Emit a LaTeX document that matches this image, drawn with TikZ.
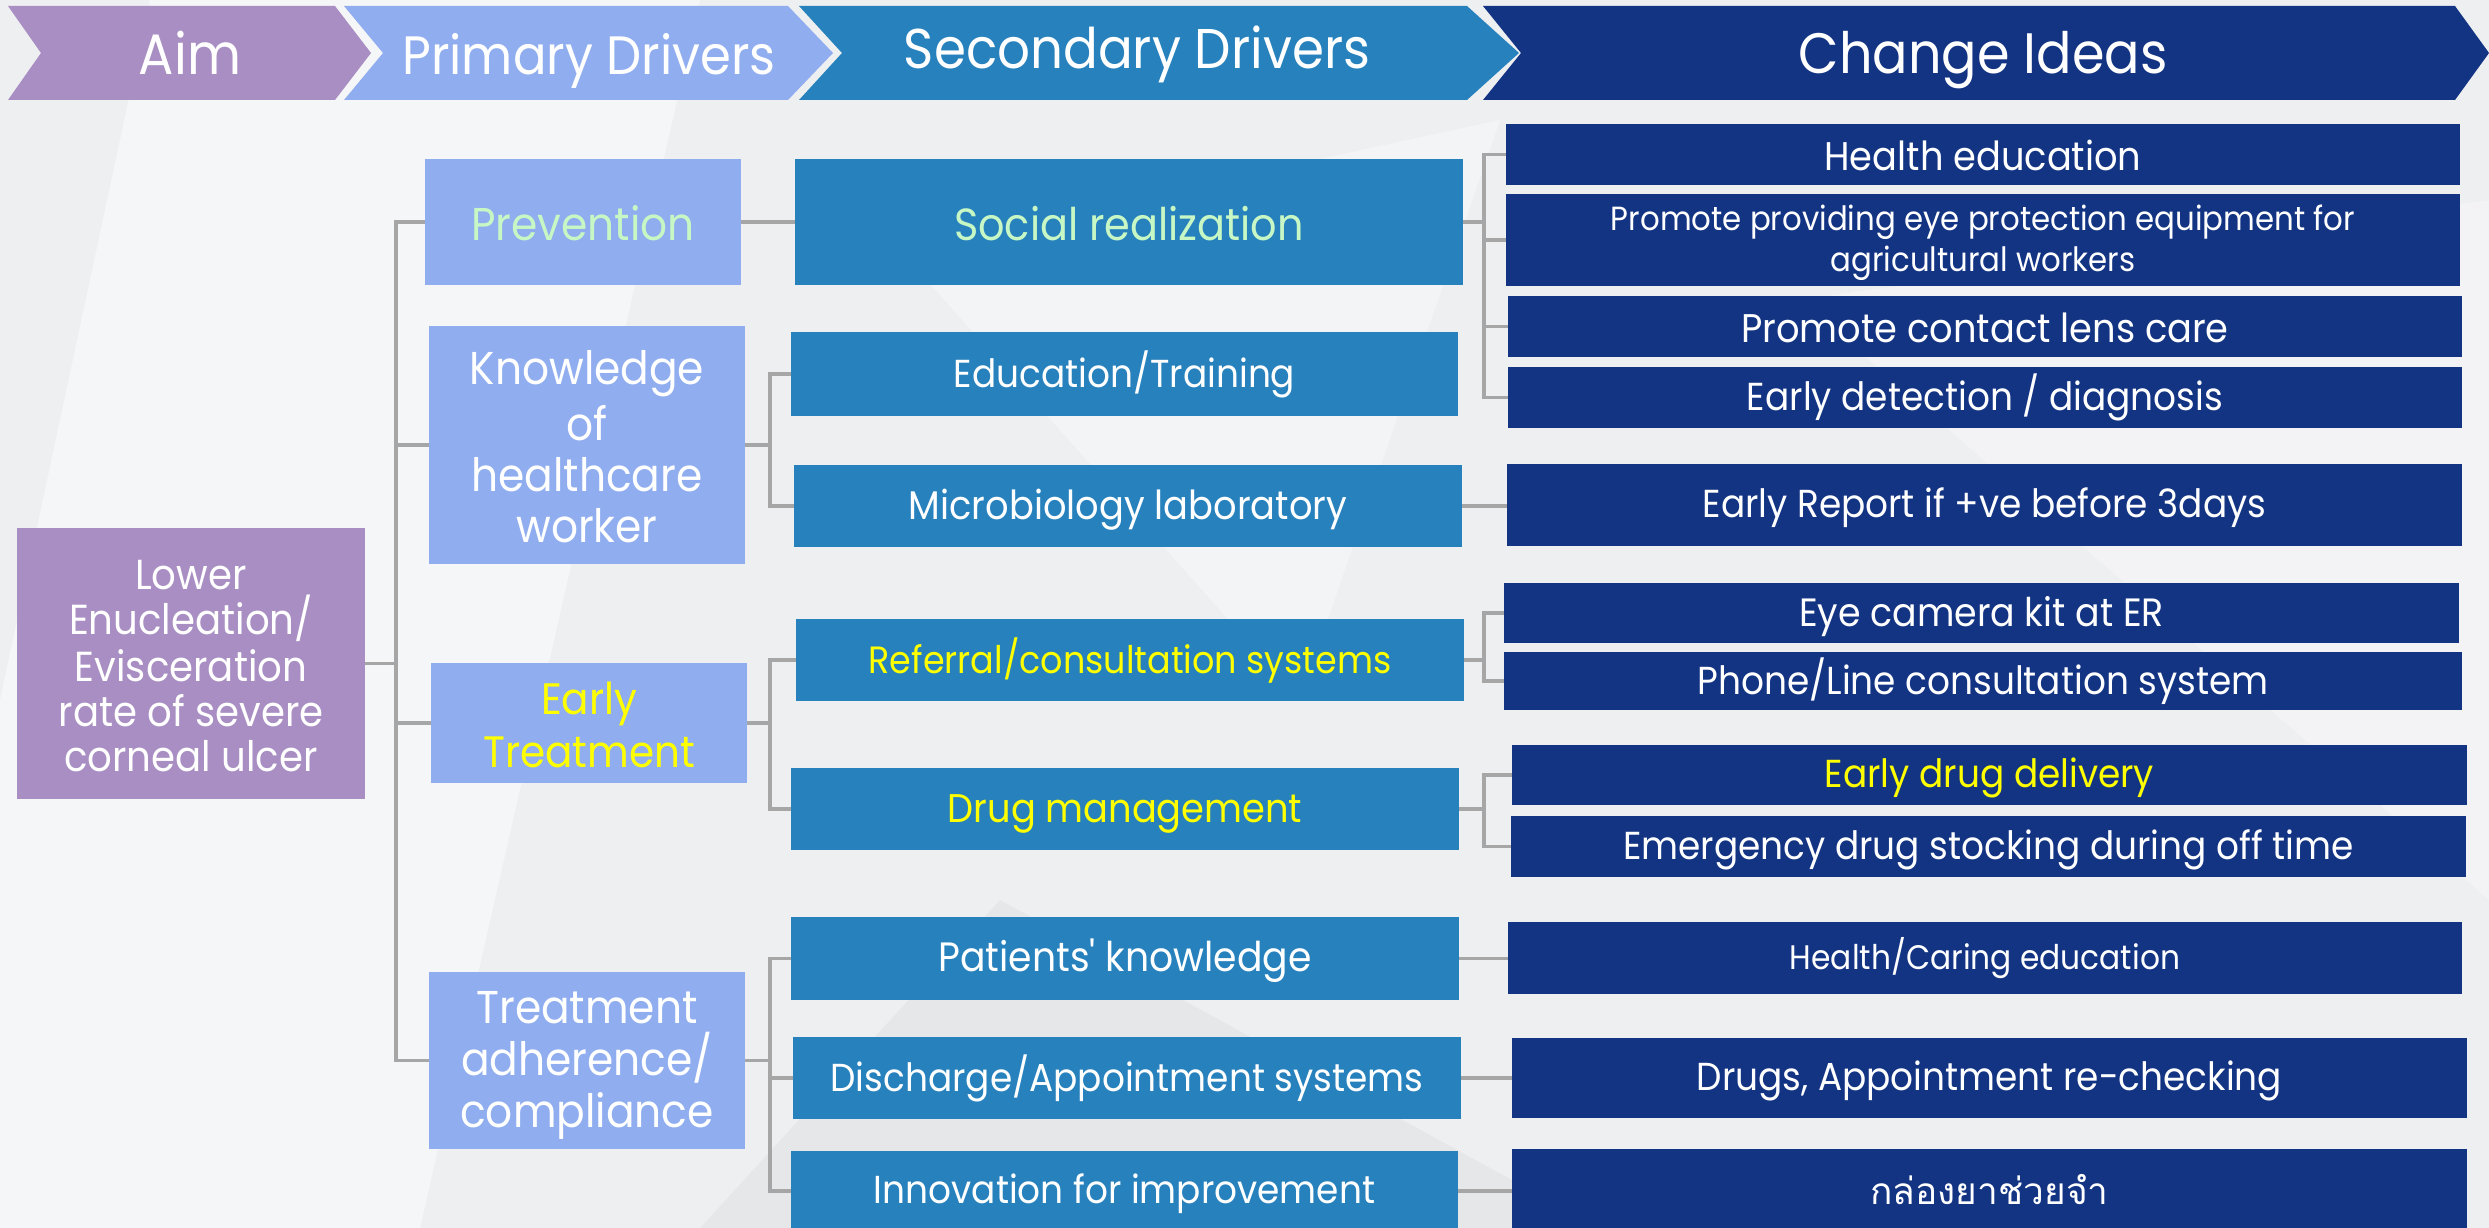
\documentclass[tikz,border=0pt]{standalone}
\usepackage{fontspec}
\setmainfont{Poppins}[FakeStretch=0.92]
\newfontfamily\thaifont[Script=Thai]{Loma}
\usetikzlibrary{calc}
\definecolor{bgc}{HTML}{EEEFF1}
\definecolor{aimc}{HTML}{A88EC2}
\definecolor{primc}{HTML}{8FADEF}
\definecolor{secc}{HTML}{2681BD}
\definecolor{chgc}{HTML}{133483}
\definecolor{connc}{HTML}{A6A6A6}
\definecolor{palegreen}{HTML}{C6F7C4}
\definecolor{yel}{HTML}{FFFF00}
\newcommand\fsz[2]{\fontsize{#1}{#2}\selectfont}
\newcommand\lst{\rule[-0.12em]{0pt}{1.04em}}
\tikzset{
  box/.style={inner sep=0pt, outer sep=0pt, align=center, text=white, anchor=north west},
  aimbox/.style={box, fill=aimc},
  primbox/.style={box, fill=primc},
  secbox/.style={box, fill=secc},
  chgbox/.style={box, fill=chgc},
  conn/.style={draw=connc, line width=3.5pt},
  hdr/.style={text=white, inner sep=0pt, anchor=base},
}
\begin{document}
\begin{tikzpicture}[x=1pt,y=-1pt]
\useasboundingbox (0,0) rectangle (2489,1228);
\clip (0,0) rectangle (2489,1228);
\fill[bgc] (0,0) rectangle (2489,1228);
% faint background facets
\fill[white,opacity=0.45] (150,0) -- (700,0) -- (420,1228) -- (0,1228) -- (0,700) -- cycle;
\fill[white,opacity=0.35] (900,250) -- (1500,120) -- (1300,700) -- cycle;
\fill[white,opacity=0.3] (1800,300) -- (2489,200) -- (2489,900) -- cycle;
\fill[black,opacity=0.03] (1000,900) -- (1600,1228) -- (700,1228) -- cycle;
% header chevrons
\fill[aimc] (8,6) -- (335,6) -- (371,53) -- (335,100) -- (8,100) -- (41,53) -- cycle;
\fill[primc] (344,6) -- (788,6) -- (833,53) -- (788,100) -- (344,100) -- (383,53) -- cycle;
\fill[secc] (799,6) -- (1467,6) -- (1519,53) -- (1467,100) -- (799,100) -- (842,53) -- cycle;
\fill[chgc] (1483,6) -- (2455,6) -- (2489,53) -- (2455,100) -- (1483,100) -- (1521,53) -- cycle;
\node[hdr, font=\fsz{57}{64}] (haim) at (190,75) {Aim};
\node[hdr, font=\fsz{54}{64}] (hprim) at (589,75) {Primary Drivers};
\node[hdr, font=\fsz{56}{64}] (hsec) at (1137,69) {Secondary Drivers};
\node[hdr, font=\fsz{57}{64}] (hchg) at (1983,74) {Change Ideas};
% aim
\node[aimbox, minimum width=348pt, minimum height=271pt, font=\fsz{42}{45}] (aim) at (17,528) {Lower\lst\\Enucleation/\lst\\Evisceration\lst\\rate of severe\lst\\corneal ulcer\lst};
% primary drivers
\node[primbox, minimum width=316pt, minimum height=126pt, font=\fsz{46}{50}, text=palegreen] (prev) at (425,159) {Prevention\lst};
\node[primbox, minimum width=316pt, minimum height=238pt, font=\fsz{46}{51}] (know) at (429,326) {Knowledge\lst\\of\lst\\healthcare\lst\\worker\lst};
\node[primbox, minimum width=316pt, minimum height=120pt, font=\fsz{44}{49}, text=yel] (early) at (431,663) {Early\lst\\Treatment\lst};
\node[primbox, minimum width=316pt, minimum height=177pt, font=\fsz{46}{52}] (adh) at (429,972) {Treatment\lst\\adherence/\lst\\compliance\lst};
% secondary drivers
\node[secbox, minimum width=668pt, minimum height=126pt, font=\fsz{45}{50}, text=palegreen] (social) at (795,159) {Social realization\lst};
\node[secbox, minimum width=667pt, minimum height=84pt, font=\fsz{39}{46}] (edu) at (791,332) {Education/Training\lst};
\node[secbox, minimum width=668pt, minimum height=82pt, font=\fsz{40}{46}] (micro) at (794,465) {Microbiology laboratory\lst};
\node[secbox, minimum width=668pt, minimum height=82pt, font=\fsz{38}{46}, text=yel] (ref) at (796,619) {Referral/consultation systems\lst};
\node[secbox, minimum width=668pt, minimum height=82pt, font=\fsz{40}{46}, text=yel] (drug) at (791,768) {Drug management\lst};
\node[secbox, minimum width=668pt, minimum height=83pt, font=\fsz{41}{46}\addfontfeature{Ligatures=TeXOff}] (pat) at (791,917) {Patients' knowledge\lst};
\node[secbox, minimum width=668pt, minimum height=82pt, font=\fsz{39}{46}] (dis) at (793,1037) {Discharge/Appointment systems\lst};
\node[secbox, minimum width=667pt, minimum height=80pt, font=\fsz{39}{46}] (inn) at (791,1151) {Innovation for improvement\lst};
% change ideas
\node[chgbox, minimum width=954pt, minimum height=61pt, font=\fsz{40}{44}] (he) at (1506,124) {Health education\lst};
\node[chgbox, minimum width=954pt, minimum height=92pt, font=\fsz{33.5}{38}] (pp) at (1506,194) {Promote providing eye protection equipment for\lst\\agricultural workers\lst};
\node[chgbox, minimum width=954pt, minimum height=61pt, font=\fsz{40}{44}] (cl) at (1508,296) {Promote contact lens care\lst};
\node[chgbox, minimum width=954pt, minimum height=61pt, font=\fsz{39}{44}] (ed) at (1508,367) {Early detection / diagnosis\lst};
\node[chgbox, minimum width=955pt, minimum height=82pt, font=\fsz{39}{44}] (er) at (1507,464) {Early Report if +ve before 3days\lst};
\node[chgbox, minimum width=955pt, minimum height=60pt, font=\fsz{39.5}{44}] (eye) at (1504,583) {Eye camera kit at ER\lst};
\node[chgbox, minimum width=958pt, minimum height=58pt, font=\fsz{39}{44}] (phone) at (1504,652) {Phone/Line consultation system\lst};
\node[chgbox, minimum width=955pt, minimum height=60pt, font=\fsz{39}{44}, text=yel] (edd) at (1512,745) {Early drug delivery\lst};
\node[chgbox, minimum width=955pt, minimum height=61pt, font=\fsz{39}{44}] (em) at (1511,816) {Emergency drug stocking during off time\lst};
\node[chgbox, minimum width=954pt, minimum height=72pt, font=\fsz{34}{38}] (hc) at (1508,922) {Health/Caring education\lst};
\node[chgbox, minimum width=955pt, minimum height=80pt, font=\fsz{39}{44}] (dr) at (1512,1038) {Drugs, Appointment re-checking\lst};
\node[chgbox, minimum width=955pt, minimum height=82pt, font=\fsz{37}{44}\thaifont] (thai) at (1512,1149) {กล่องยาช่วยจำ\lst};
% bus coordinates
\coordinate (b1) at (396,663);
\coordinate (b2) at (770,663);
\coordinate (b3) at (1484,663);
% aim -> primary
\draw[conn] (aim.east) -- (aim.east -| b1);
\foreach \n in {prev,know,early,adh} \draw[conn] (aim.east -| b1) |- (\n.west);
% primary -> secondary
\draw[conn] (prev.east) -- (prev.east -| social.west);
\draw[conn] (know.east) -- (know.east -| b2);
\foreach \n in {edu,micro} \draw[conn] (know.east -| b2) |- (\n.west);
\draw[conn] (early.east) -- (early.east -| b2);
\foreach \n in {ref,drug} \draw[conn] (early.east -| b2) |- (\n.west);
\draw[conn] (adh.east) -- (adh.east -| b2);
\foreach \n in {pat,dis,inn} \draw[conn] (adh.east -| b2) |- (\n.west);
% secondary -> change ideas
\draw[conn] (social.east) -- (social.east -| b3);
\foreach \n in {he,pp,cl,ed} \draw[conn] (social.east -| b3) |- (\n.west);
\draw[conn] (ref.east) -- (ref.east -| b3);
\foreach \n in {eye,phone} \draw[conn] (ref.east -| b3) |- (\n.west);
\draw[conn] (drug.east) -- (drug.east -| b3);
\foreach \n in {edd,em} \draw[conn] (drug.east -| b3) |- (\n.west);
\draw[conn] (micro.east) -- (micro.east -| er.west);
\draw[conn] (pat.east) -- (pat.east -| hc.west);
\draw[conn] (dis.east) -- (dis.east -| dr.west);
\draw[conn] (inn.east) -- (inn.east -| thai.west);
\end{tikzpicture}
\end{document}
